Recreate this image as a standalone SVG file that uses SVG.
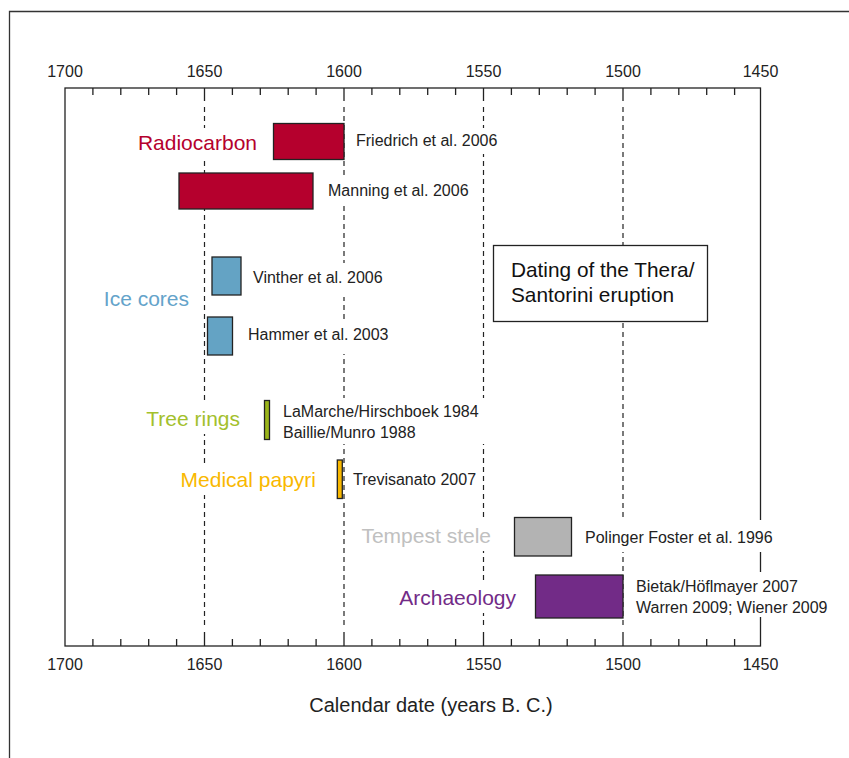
<svg xmlns="http://www.w3.org/2000/svg" width="849" height="758" viewBox="0 0 849 758">
<style>
text{font-family:"Liberation Sans",Arial,sans-serif;}
.tick{stroke:#222;stroke-width:1.3;}
.grid{stroke:#222;stroke-width:1.2;stroke-dasharray:5 4;}
.num{font-size:16px;fill:#222;text-anchor:middle;}
.ref{font-size:16px;fill:#222;}
.cat{font-size:21px;text-anchor:end;}
.bar{stroke:#222;stroke-width:1.3;}
.bg{fill:#fff;}
</style>
<!-- outer border -->
<path d="M9.5 758 V11.5 H849" fill="none" stroke="#333" stroke-width="1.3"/>
<g id="axes">
<rect x="65" y="88" width="695.5" height="558" fill="none" stroke="#222" stroke-width="1.3"/>
<path class="tick" d="M92.9 88v7M120.8 88v7M148.7 88v7M176.6 88v7M232.4 88v7M260.3 88v7M288.2 88v7M316.1 88v7M371.9 88v7M399.8 88v7M427.7 88v7M455.6 88v7M511.4 88v7M539.3 88v7M567.2 88v7M595.1 88v7M650.9 88v7M678.8 88v7M706.7 88v7M734.6 88v7"/>
<path class="tick" d="M92.9 646v-7M120.8 646v-7M148.7 646v-7M176.6 646v-7M232.4 646v-7M260.3 646v-7M288.2 646v-7M316.1 646v-7M371.9 646v-7M399.8 646v-7M427.7 646v-7M455.6 646v-7M511.4 646v-7M539.3 646v-7M567.2 646v-7M595.1 646v-7M650.9 646v-7M678.8 646v-7M706.7 646v-7M734.6 646v-7"/>
<path class="tick" d="M204.5 88v13M344 88v13M483.5 88v13M623 88v13M204.5 646v-14M344 646v-14M483.5 646v-14M623 646v-14"/>
<path class="grid" d="M204.5 107V627M344 107V627M483.5 107V627M623 107V627"/>
<text class="num" x="65" y="77">1700</text>
<text class="num" x="204.5" y="77">1650</text>
<text class="num" x="344" y="77">1600</text>
<text class="num" x="483.5" y="77">1550</text>
<text class="num" x="623" y="77">1500</text>
<text class="num" x="760.5" y="77">1450</text>
<text class="num" x="65" y="670">1700</text>
<text class="num" x="204.5" y="670">1650</text>
<text class="num" x="344" y="670">1600</text>
<text class="num" x="483.5" y="670">1550</text>
<text class="num" x="623" y="670">1500</text>
<text class="num" x="760.5" y="670">1450</text>
<text x="431" y="712" style="font-size:20px;fill:#222;text-anchor:middle">Calendar date (years B. C.)</text>
</g>
<g id="title">
<rect x="493.5" y="245.5" width="214" height="76" fill="#fff" stroke="#222" stroke-width="1.3"/>
<text x="511" y="277" style="font-size:20.8px;fill:#111">Dating of the Thera/</text>
<text x="511" y="302" style="font-size:20.8px;fill:#111">Santorini eruption</text>
</g>
<g id="radiocarbon">
<rect class="bg" x="130" y="128" width="132" height="30"/>
<text class="cat" x="257" y="150" fill="#B5002D">Radiocarbon</text>
<rect class="bar" x="273.5" y="123.5" width="70.5" height="36" fill="#B5002D"/>
<rect class="bar" x="179" y="173" width="134" height="36" fill="#B5002D"/>
<rect class="bg" x="351" y="128" width="152" height="26"/>
<text class="ref" x="356" y="146">Friedrich et al. 2006</text>
<rect class="bg" x="323" y="178" width="150" height="26"/>
<text class="ref" x="328" y="196">Manning et al. 2006</text>
</g>
<g id="ice-cores">
<rect class="bg" x="98" y="284" width="96" height="30"/>
<text class="cat" x="189" y="306" fill="#64A3CA">Ice cores</text>
<rect class="bar" x="212" y="257" width="29" height="38" fill="#64A3C4"/>
<rect class="bar" x="207.5" y="317" width="25" height="38" fill="#64A3C4"/>
<rect class="bg" x="248" y="263" width="142" height="34"/>
<text class="ref" x="253" y="283">Vinther et al. 2006</text>
<rect class="bg" x="243" y="320" width="150" height="34"/>
<text class="ref" x="248" y="340">Hammer et al. 2003</text>
</g>
<g id="tree-rings">
<rect class="bg" x="143" y="404" width="102" height="30"/>
<text class="cat" x="240" y="426" fill="#A3C02C">Tree rings</text>
<rect class="bar" x="264.5" y="400.5" width="5" height="39" fill="#9BB51A"/>
<rect class="bg" x="278" y="398" width="210" height="46"/>
<text class="ref" x="283" y="417">LaMarche/Hirschboek 1984</text>
<text class="ref" x="283" y="438">Baillie/Munro 1988</text>
</g>
<g id="medical-papyri">
<rect class="bg" x="171" y="465" width="150" height="30"/>
<text class="cat" x="316" y="487" fill="#F9B800">Medical papyri</text>
<rect class="bar" x="337.3" y="460" width="5" height="38.5" fill="#F9B800"/>
<rect class="bg" x="348" y="467" width="130" height="26"/>
<text class="ref" x="353" y="485">Trevisanato 2007</text>
</g>
<g id="tempest-stele">
<rect class="bg" x="356" y="521" width="140" height="30"/>
<text class="cat" x="491" y="543" fill="#C0C0C0">Tempest stele</text>
<rect class="bar" x="514.5" y="517.5" width="57" height="38.5" fill="#B3B3B3"/>
<rect class="bg" x="580" y="520" width="192" height="32"/>
<text class="ref" x="585" y="543">Polinger Foster et al. 1996</text>
</g>
<g id="archaeology">
<rect class="bg" x="395" y="583" width="126" height="30"/>
<text class="cat" x="516" y="605" fill="#722B87">Archaeology</text>
<rect class="bar" x="535.5" y="575" width="87.5" height="43" fill="#722B87"/>
<rect class="bg" x="631" y="572" width="204" height="45"/>
<text class="ref" x="636" y="592">Bietak/Höflmayer 2007</text>
<text class="ref" x="636" y="613">Warren 2009; Wiener 2009</text>
</g>
</svg>
